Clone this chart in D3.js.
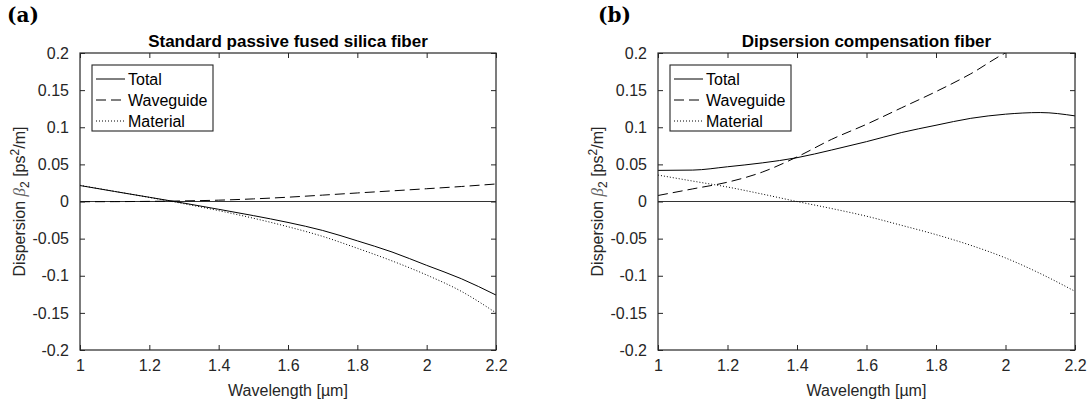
<!DOCTYPE html>
<html>
<head>
<meta charset="utf-8">
<script src="https://cdn.jsdelivr.net/npm/d3@7"></script>
<style>
  body { margin: 0; background: #fff; }
  svg { display: block; font-family: "Liberation Sans", Arial, sans-serif; }
</style>
</head>
<body>
<div id="chart"></div>
<script>
// data
var wavelength = [1.0, 1.1, 1.2, 1.3, 1.4, 1.5, 1.6, 1.7, 1.8, 1.9, 2.0, 2.1, 2.2];

// (a) standard fused silica fiber
var smfTotal     = [0.0215, 0.0135, 0.0057, -0.0022, -0.0105, -0.019, -0.0282, -0.039, -0.053, -0.068, -0.086, -0.104, -0.126];
var smfWaveguide = [-0.0003, -0.0002, 0.0002, 0.0008, 0.0018, 0.0035, 0.0058, 0.0086, 0.0115, 0.0143, 0.0172, 0.0202, 0.0236];
var smfMaterial  = [0.0218, 0.0137, 0.0055, -0.003, -0.0123, -0.0225, -0.034, -0.047, -0.063, -0.080, -0.099, -0.121, -0.150];

// (b) dispersion compensation fiber
var dcfTotal     = [0.0419, 0.0423, 0.0468, 0.052, 0.059, 0.0694, 0.0806, 0.0928, 0.1027, 0.112, 0.1176, 0.1198, 0.1153];
var dcfWaveguide = [0.0081, 0.017, 0.026, 0.0396, 0.060, 0.0838, 0.104, 0.126, 0.148, 0.172, 0.200, 0.217, 0.236];
var dcfMaterial  = [0.0356, 0.0275, 0.0195, 0.0100, 0.0, -0.0095, -0.0198, -0.032, -0.0446, -0.059, -0.076, -0.097, -0.121];

var seriesNames = ["Total", "Waveguide", "Material"];
var xTicks = [1, 1.2, 1.4, 1.6, 1.8, 2, 2.2];
var yTicks = [-0.2, -0.15, -0.1, -0.05, 0, 0.05, 0.1, 0.15, 0.2];

var svgWidth = 1088, svgHeight = 405;
var axisColor = "#262626";
var dashes = ["none", "10,5", "1,2"];

var svg = d3.select("#chart").append("svg")
    .attr("width", svgWidth)
    .attr("height", svgHeight);
svg.append("rect").attr("width", svgWidth).attr("height", svgHeight).attr("fill", "#fff");

function drawPanel(opt) {
    var left = opt.left, right = opt.right, top = 53, bottom = 350;
    var x = d3.scaleLinear().domain([1, 2.2]).range([left, right]);
    var y = d3.scaleLinear().domain([-0.2, 0.2]).range([bottom, top]);
    var g = svg.append("g");

    // clip so the waveguide curve stops at the top of the box
    g.append("clipPath").attr("id", "clip" + opt.id)
      .append("rect")
        .attr("x", left).attr("y", top)
        .attr("width", right - left).attr("height", bottom - top);

    // zero line
    g.append("line")
        .attr("x1", x(1)).attr("x2", x(2.2))
        .attr("y1", y(0)).attr("y2", y(0))
        .attr("stroke", "#333").attr("stroke-width", 1.1);

    var line = d3.line()
        .x(function(d){ return x(d[0]); })
        .y(function(d){ return y(d[1]); })
        .curve(d3.curveMonotoneX);

    var curves = g.append("g").attr("clip-path", "url(#clip" + opt.id + ")");
    opt.series.forEach(function(s, i) {
        curves.append("path")
            .datum(d3.zip(wavelength, s))
            .attr("d", line)
            .attr("fill", "none")
            .attr("stroke", "#000")
            .attr("stroke-width", 1)
            .attr("stroke-dasharray", dashes[i]);
    });

    // axes, ticks inside on all four sides
    var tickLen = 5;
    g.append("g").attr("transform", "translate(0," + bottom + ")")
        .call(d3.axisBottom(x).tickValues(xTicks).tickSizeInner(-tickLen).tickSizeOuter(0).tickPadding(10)
            .tickFormat(function(d){ return d3.format("")(+d.toFixed(1)); }));
    g.append("g").attr("transform", "translate(0," + top + ")")
        .call(d3.axisTop(x).tickValues(xTicks).tickSizeInner(-tickLen).tickSizeOuter(0).tickFormat(""));
    g.append("g").attr("transform", "translate(" + left + ",0)")
        .call(d3.axisLeft(y).tickValues(yTicks).tickSizeInner(-tickLen).tickSizeOuter(0).tickPadding(11)
            .tickFormat(function(d){ return String(+d.toFixed(2)); }));
    g.append("g").attr("transform", "translate(" + right + ",0)")
        .call(d3.axisRight(y).tickValues(yTicks).tickSizeInner(-tickLen).tickSizeOuter(0).tickFormat(""));

    g.selectAll(".domain").remove();
    g.selectAll(".tick line").attr("stroke", axisColor).attr("stroke-width", 1);
    g.selectAll(".tick text")
        .attr("fill", axisColor)
        .style("font-size", "16px")
        .style("font-family", "'Liberation Sans', Arial, sans-serif");

    g.append("rect")
        .attr("x", left).attr("y", top)
        .attr("width", right - left).attr("height", bottom - top)
        .attr("fill", "none").attr("stroke", axisColor).attr("stroke-width", 1.2);

    // title
    g.append("text")
        .attr("x", (left + right) / 2).attr("y", 47)
        .attr("text-anchor", "middle")
        .attr("font-weight", "bold").attr("font-size", 17)
        .attr("fill", "#000")
        .text(opt.title);

    // x label
    g.append("text")
        .attr("x", (left + right) / 2).attr("y", 396)
        .attr("text-anchor", "middle")
        .attr("font-size", 16).attr("fill", axisColor)
        .text("Wavelength [\u00b5m]");

    // y label with greek beta, sub- and superscript
    var yl = g.append("text")
        .attr("transform", "translate(" + (left - 55) + "," + ((top + bottom) / 2) + ") rotate(-90)")
        .attr("text-anchor", "middle")
        .attr("font-size", 16).attr("fill", axisColor);
    yl.append("tspan").text("Dispersion ");
    yl.append("tspan").attr("font-family", "'Liberation Serif', serif").attr("font-style", "italic")
        .attr("fill", "#666").attr("font-size", 17).text("\u03b2");
    yl.append("tspan").attr("font-size", 12).attr("dy", 4).text("2");
    yl.append("tspan").attr("dy", -4).text(" [ps");
    yl.append("tspan").attr("font-size", 12).attr("dy", -6).text("2");
    yl.append("tspan").attr("dy", 6).text("/m]");

    // panel letter
    g.append("text")
        .attr("x", opt.letterX).attr("y", 22)
        .attr("font-family", "'DejaVu Serif', serif")
        .attr("font-weight", "bold").attr("font-size", 20)
        .attr("fill", "#000")
        .text(opt.letter);

    // legend
    var lx = left + 12, ly = 65;
    var legend = g.append("g");
    legend.append("rect")
        .attr("x", lx).attr("y", ly).attr("width", 121).attr("height", 66)
        .attr("fill", "#fff").attr("stroke", axisColor).attr("stroke-width", 1.1);
    seriesNames.forEach(function(name, i) {
        var ry = ly + 14 + i * 21;
        legend.append("line")
            .attr("x1", lx + 4).attr("x2", lx + 33)
            .attr("y1", ry).attr("y2", ry)
            .attr("stroke", "#000").attr("stroke-width", 1)
            .attr("stroke-dasharray", dashes[i]);
        legend.append("text")
            .attr("x", lx + 36).attr("y", ry + 6)
            .attr("font-size", 16).attr("fill", "#000")
            .text(name);
    });
}

drawPanel({id: "a", left: 80, right: 496, letter: "(a)", letterX: 7,
    title: "Standard passive fused silica fiber",
    series: [smfTotal, smfWaveguide, smfMaterial]});
drawPanel({id: "b", left: 658, right: 1075, letter: "(b)", letterX: 598,
    title: "Dipsersion compensation fiber",
    series: [dcfTotal, dcfWaveguide, dcfMaterial]});
</script>
</body>
</html>
